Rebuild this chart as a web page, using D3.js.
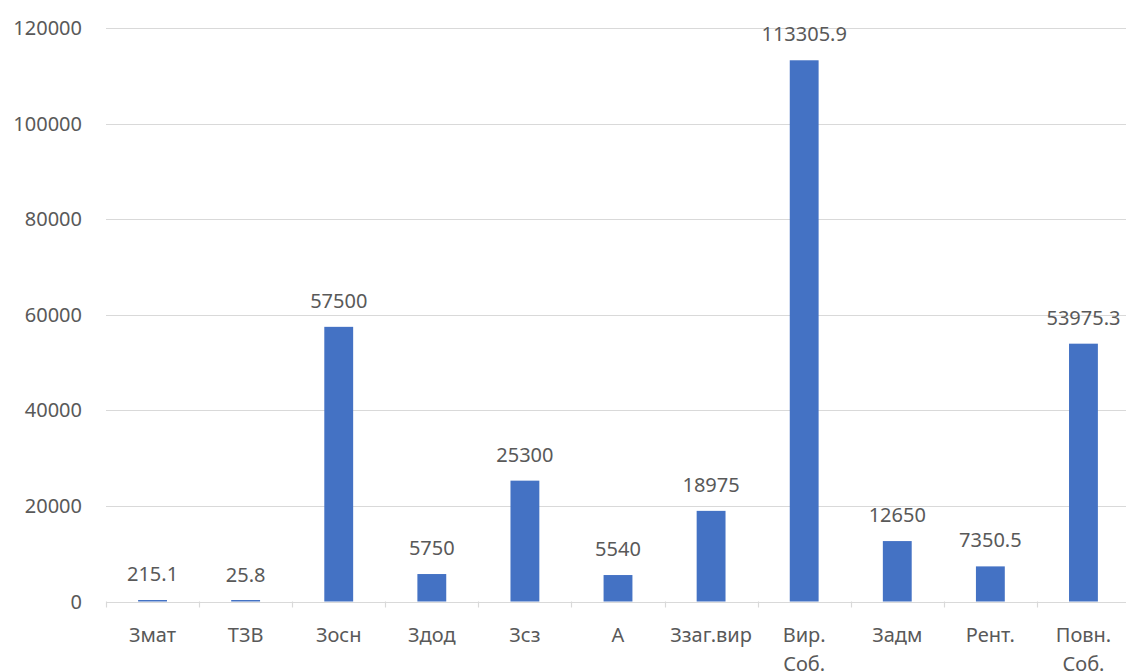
<!DOCTYPE html>
<html>
<head>
  <meta charset="utf-8">
  <title></title>
  <script src="https://d3js.org/d3.v7.min.js"></script>
  <style>
    body { margin: 0; background: #fff; }
    text { font-family: "Noto Sans", sans-serif; fill: #595959; }
  </style>
</head>
<body>
  <svg id="chart" width="1126" height="671"></svg>
  <script>
    // categories (multi-line ones split with \n)
    var categories = ["Змат", "ТЗВ", "Зосн", "Здод", "Зсз", "А", "Ззаг.вир", "Вир.\nСоб.", "Задм", "Рент.", "Повн.\nСоб."]
    var values = [215.1, 25.8, 57500, 5750, 25300, 5540, 18975, 113305.9, 12650, 7350.5, 53975.3]
    var valueLabels = ["215.1", "25.8", "57500", "5750", "25300", "5540", "18975", "113305.9", "12650", "7350.5", "53975.3"]
    var yTicks = [0, 20000, 40000, 60000, 80000, 100000, 120000]

    var svg = d3.select("#chart"),
        plotLeft = 106, plotRight = 1130,
        plotTop = 28.3, plotBottom = 601.5

    var x = d3.scaleBand()
      .domain(categories)
      .range([plotLeft, plotRight])
      .paddingInner(0.69)
      .paddingOuter(0.345)

    var y = d3.scaleLinear()
      .domain([0, 120000])
      .range([plotBottom, plotTop])

    // gridlines
    svg.append("g")
      .selectAll("line")
      .data(yTicks)
      .join("line")
      .attr("x1", plotLeft)
      .attr("x2", plotRight)
      .attr("y1", d => Math.round(y(d)) + 0.5)
      .attr("y2", d => Math.round(y(d)) + 0.5)
      .attr("stroke", "#d9d9d9")
      .attr("stroke-width", 1.2)

    // y labels
    svg.append("g")
      .selectAll("text")
      .data(yTicks)
      .join("text")
      .attr("x", 82)
      .attr("y", d => y(d) + 7)
      .attr("text-anchor", "end")
      .style("font-size", "20px")
      .text(d => d)

    // category boundary ticks
    var step = x.step()
    var bounds = d3.range(categories.length + 1).map(i => plotLeft + i * step)
    svg.append("g")
      .selectAll("line")
      .data(bounds)
      .join("line")
      .attr("x1", d => Math.round(d) + 0.5)
      .attr("x2", d => Math.round(d) + 0.5)
      .attr("y1", plotBottom)
      .attr("y2", plotBottom + 6)
      .attr("stroke", "#d9d9d9")
      .attr("stroke-width", 1.2)

    // bars
    svg.append("g")
      .selectAll("rect")
      .data(values)
      .join("rect")
      .attr("x", (d, i) => x(categories[i]))
      .attr("width", x.bandwidth())
      .attr("y", d => Math.min(y(d), plotBottom - 1.5))
      .attr("height", d => Math.max(plotBottom - y(d), 1.5))
      .attr("fill", "#4472c4")

    // value labels
    svg.append("g")
      .selectAll("text")
      .data(values)
      .join("text")
      .attr("x", (d, i) => x(categories[i]) + x.bandwidth() / 2)
      .attr("y", d => y(d) - 19)
      .attr("text-anchor", "middle")
      .style("font-size", "20px")
      .text((d, i) => valueLabels[i])

    // category labels
    var cat = svg.append("g")
      .selectAll("text")
      .data(categories)
      .join("text")
      .attr("x", d => x(d) + x.bandwidth() / 2)
      .attr("y", 642)
      .attr("text-anchor", "middle")
      .style("font-size", "20px")

    cat.selectAll("tspan")
      .data(d => d.split("\n").map(s => ({ s: s, cx: x(d) + x.bandwidth() / 2 })))
      .join("tspan")
      .attr("x", d => d.cx)
      .attr("dy", (d, i) => i ? 29 : 0)
      .text(d => d.s)
  </script>
</body>
</html>
